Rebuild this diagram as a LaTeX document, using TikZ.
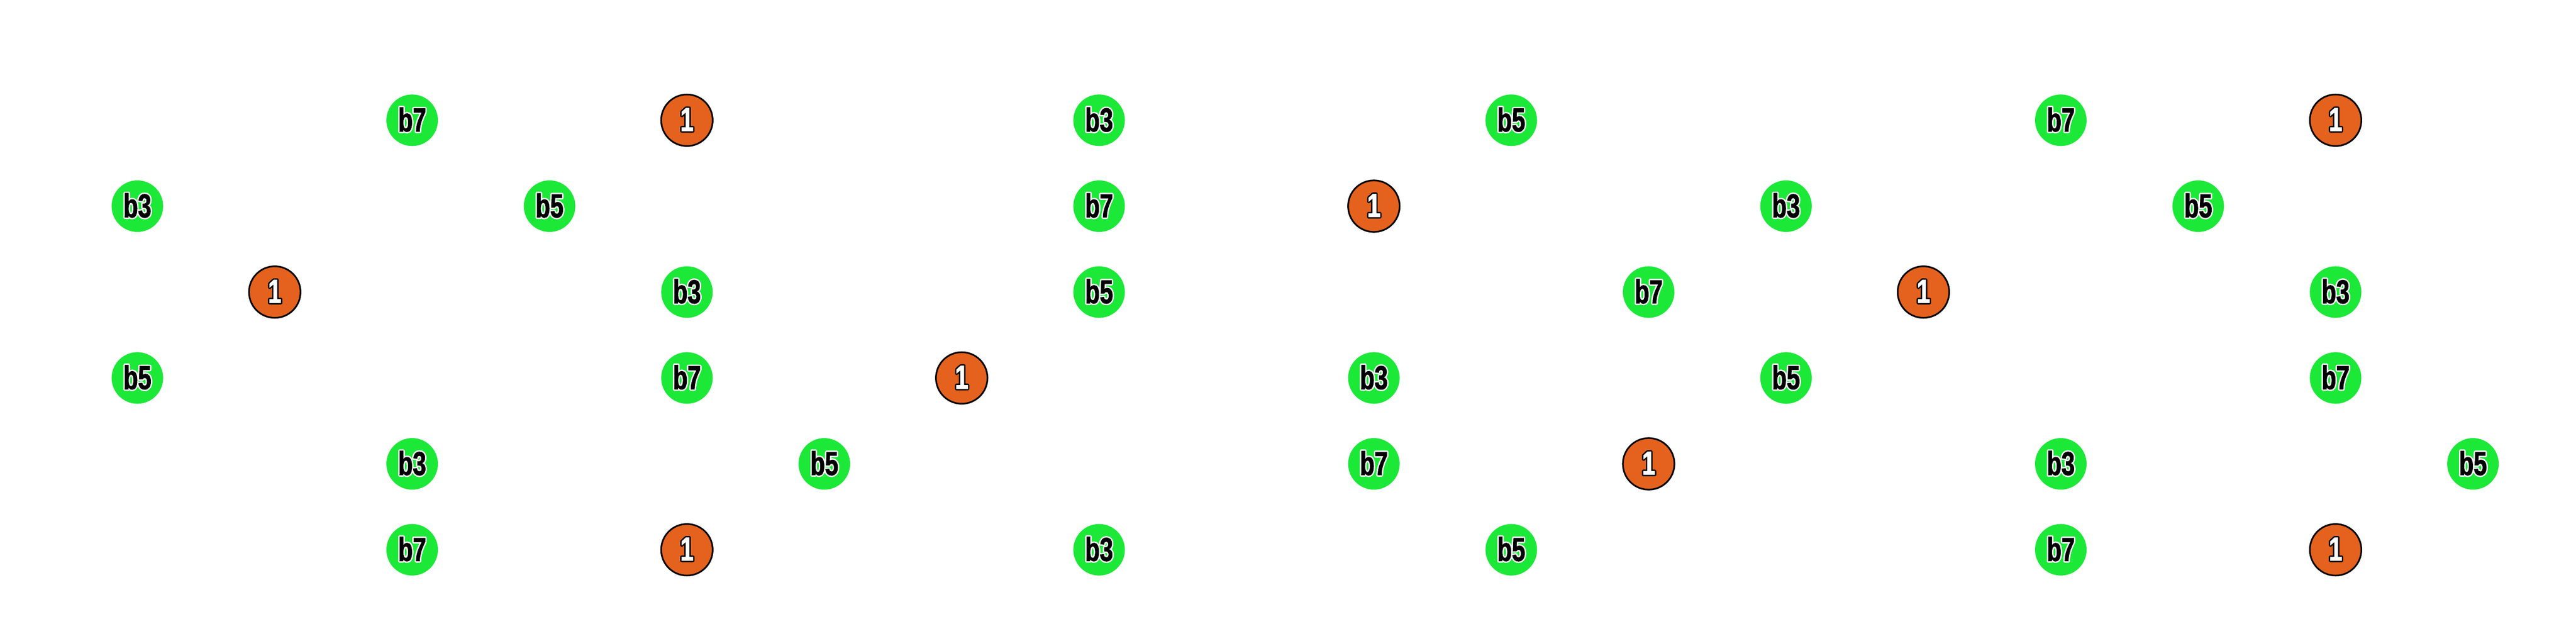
\documentclass[tikz,border=0pt]{standalone}
\usepackage{fontspec}
\usepackage{contour}
\newfontfamily\ivfont{Liberation Sans Bold}[FakeStretch=0.72, FakeBold=1.6]
\contourlength{0.9pt}
\definecolor{ivgreen}{HTML}{1CE838}
\definecolor{rootorange}{HTML}{E4621D}
\newcommand{\iv}[1]{\contour{white}{#1}}
\newcommand{\rootmark}{\contour{black}{1}}

\begin{document}
\begin{tikzpicture}[
    tone/.style={circle, fill=ivgreen, minimum size=1.2cm, inner sep=0pt, text=black,
      font=\ivfont\fontsize{22}{26}\selectfont},
    root/.style={tone, fill=rootorange, draw=black, line width=1.1pt, text=white}]
    \useasboundingbox (0,0) rectangle (60,-14.4);
    % string 1
    \node[tone] (s1f2) at (9.6,-2.8) {\iv{b7}};
    \node[root] (s1f4) at (16,-2.8) {\rootmark};
    \node[tone] (s1f7) at (25.6,-2.8) {\iv{b3}};
    \node[tone] (s1f10) at (35.2,-2.8) {\iv{b5}};
    \node[tone] (s1f14) at (48,-2.8) {\iv{b7}};
    \node[root] (s1f16) at (54.4,-2.8) {\rootmark};
    % string 2
    \node[tone] (s2f0) at (3.2,-4.8) {\iv{b3}};
    \node[tone] (s2f3) at (12.8,-4.8) {\iv{b5}};
    \node[tone] (s2f7) at (25.6,-4.8) {\iv{b7}};
    \node[root] (s2f9) at (32,-4.8) {\rootmark};
    \node[tone] (s2f12) at (41.6,-4.8) {\iv{b3}};
    \node[tone] (s2f15) at (51.2,-4.8) {\iv{b5}};
    % string 3
    \node[root] (s3f1) at (6.4,-6.8) {\rootmark};
    \node[tone] (s3f4) at (16,-6.8) {\iv{b3}};
    \node[tone] (s3f7) at (25.6,-6.8) {\iv{b5}};
    \node[tone] (s3f11) at (38.4,-6.8) {\iv{b7}};
    \node[root] (s3f13) at (44.8,-6.8) {\rootmark};
    \node[tone] (s3f16) at (54.4,-6.8) {\iv{b3}};
    % string 4
    \node[tone] (s4f0) at (3.2,-8.8) {\iv{b5}};
    \node[tone] (s4f4) at (16,-8.8) {\iv{b7}};
    \node[root] (s4f6) at (22.4,-8.8) {\rootmark};
    \node[tone] (s4f9) at (32,-8.8) {\iv{b3}};
    \node[tone] (s4f12) at (41.6,-8.8) {\iv{b5}};
    \node[tone] (s4f16) at (54.4,-8.8) {\iv{b7}};
    % string 5
    \node[tone] (s5f2) at (9.6,-10.8) {\iv{b3}};
    \node[tone] (s5f5) at (19.2,-10.8) {\iv{b5}};
    \node[tone] (s5f9) at (32,-10.8) {\iv{b7}};
    \node[root] (s5f11) at (38.4,-10.8) {\rootmark};
    \node[tone] (s5f14) at (48,-10.8) {\iv{b3}};
    \node[tone] (s5f17) at (57.6,-10.8) {\iv{b5}};
    % string 6
    \node[tone] (s6f2) at (9.6,-12.8) {\iv{b7}};
    \node[root] (s6f4) at (16,-12.8) {\rootmark};
    \node[tone] (s6f7) at (25.6,-12.8) {\iv{b3}};
    \node[tone] (s6f10) at (35.2,-12.8) {\iv{b5}};
    \node[tone] (s6f14) at (48,-12.8) {\iv{b7}};
    \node[root] (s6f16) at (54.4,-12.8) {\rootmark};
\end{tikzpicture}
\end{document}
